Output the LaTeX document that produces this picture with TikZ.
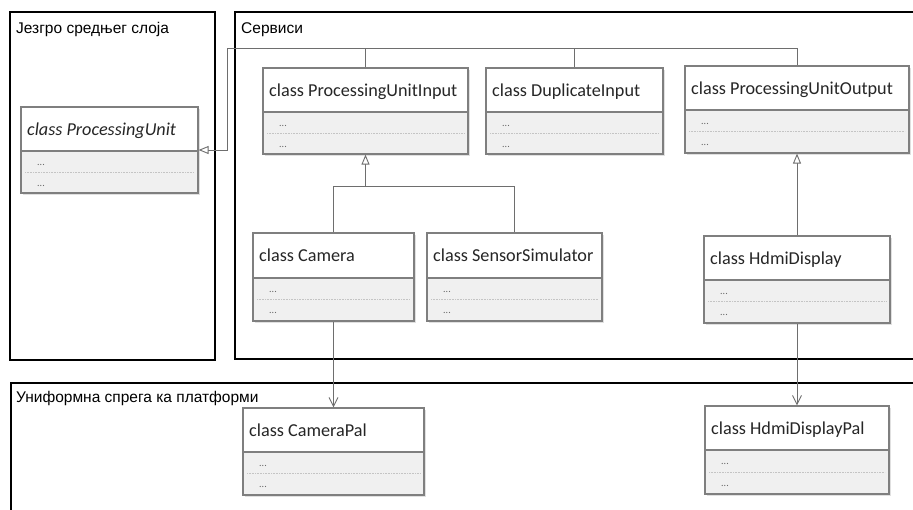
\documentclass[tikz,border=0pt]{standalone}
\usepackage{fontspec}
\setmainfont{Carlito}
\newfontfamily\framefont{Liberation Sans}
\usetikzlibrary{arrows.meta,fit}

\definecolor{linegray}{HTML}{6E6E6E}
\definecolor{boxgray}{HTML}{7F7F7F}
\definecolor{compfill}{HTML}{F0F0F0}
\definecolor{divgray}{HTML}{C4C4C4}
\definecolor{dotgray}{HTML}{666666}

\tikzset{
  pkgframe/.style={draw=black, line width=1.8pt},
  frametitle/.style={font=\framefont\fontsize{15.5}{17}\selectfont, anchor=base west, inner sep=0pt},
  classtitle/.style={font=\fontsize{18.2}{20}\selectfont, text=black!85, anchor=base west, inner sep=0pt},
  member/.style={font=\fontsize{10}{12}\selectfont, text=dotgray, anchor=base, inner sep=0pt},
  classbox/.style={draw=boxgray, line width=1.2pt, inner sep=0pt},
  conn/.style={draw=linegray, line width=0.9pt},
  gen/.style={-{Triangle[open, length=10pt, width=8pt, fill=white]}},
  dep/.style={-{Straight Barb[length=9pt, width=9pt]}},
}

% UML class box: name, left, top, right, header bottom, bottom, title
\newcommand{\umlclass}[7]{%
  \fill[black!12] ({#2+1.5},{#3+1.5}) rectangle ({#4+1.5},{#6+1.5});
  \fill[white] (#2,#3) rectangle (#4,#5);
  \fill[compfill] (#2,#5) rectangle (#4,#6);
  \draw[divgray, densely dotted, line width=0.6pt] ({#2+4},{(#5+#6)/2}) -- ({#4-4},{(#5+#6)/2});
  \draw[boxgray, line width=1.2pt] (#2,#5) -- (#4,#5);
  \node[classtitle] (#1-title) at ({#2+6},{(#3+#5)/2+6}) {#7};
  \node[member] (#1-m1) at ({#2+20},{#5+(#6-#5)/4+3.5}) {...};
  \node[member] (#1-m2) at ({#2+20},{#6-(#6-#5)/4+3.5}) {...};
  \node[classbox, fit={(#2,#3) (#4,#6)}] (#1) {};
}

\begin{document}
\begin{tikzpicture}[x=1pt, y=-1pt]
  \useasboundingbox (0,0) rectangle (913,509);
  \clip (0,0) rectangle (913,509);
  \fill[white] (0,0) rectangle (913,509);

  % packages
  \draw[pkgframe] (10,12) rectangle (215,360);
  \node[frametitle] (coreT) at (16,33) {Језгро средњег слоја};
  \draw[pkgframe] (235,12) rectangle (940,359);
  \node[frametitle] (svcT) at (241,33) {Сервиси};
  \draw[pkgframe] (11,383) rectangle (940,540);
  \node[frametitle] (palT) at (16,402) {Униформна спрега ка платформи};

  % classes
  \umlclass{pu}{21}{107}{198}{151}{193}{\itshape class ProcessingUnit}
  \umlclass{pui}{263}{68}{468}{112}{154}{class ProcessingUnitInput}
  \umlclass{dup}{486}{68}{663}{112}{154}{class DuplicateInput}
  \umlclass{puo}{685}{66}{909}{110}{153}{class ProcessingUnitOutput}
  \umlclass{cam}{253}{233}{414}{278}{321}{class Camera}
  \umlclass{sen}{427}{233}{602}{278}{321}{class SensorSimulator}
  \umlclass{hdmi}{704}{236}{890}{280}{323}{class HdmiDisplay}
  \umlclass{campal}{243}{408}{424}{452}{495}{class CameraPal}
  \umlclass{hdmipal}{705}{406}{889}{450}{494}{class HdmiDisplayPal}

  % generalisation tree towards ProcessingUnit
  \coordinate (busL) at (227,48);
  \draw[conn, gen] (puo.north) |- (busL) |- (pu.east);
  \draw[conn] (pui.north) -- (pui.north |- busL);
  \draw[conn] (dup.north) -- (dup.north |- busL);

  % generalisation tree towards ProcessingUnitInput
  \coordinate (join) at (0,186);
  \draw[conn] (cam.north) |- (sen.north |- join) -- (sen.north);
  \draw[conn, gen] (pui.south |- join) -- (pui.south);

  % HdmiDisplay specialises ProcessingUnitOutput
  \draw[conn, gen] (hdmi.north) -- (puo.south);

  % dependencies on the platform layer
  \draw[conn, dep] (cam.south) -- (campal.north);
  \draw[conn, dep] (hdmi.south) -- (hdmipal.north);
\end{tikzpicture}
\end{document}
